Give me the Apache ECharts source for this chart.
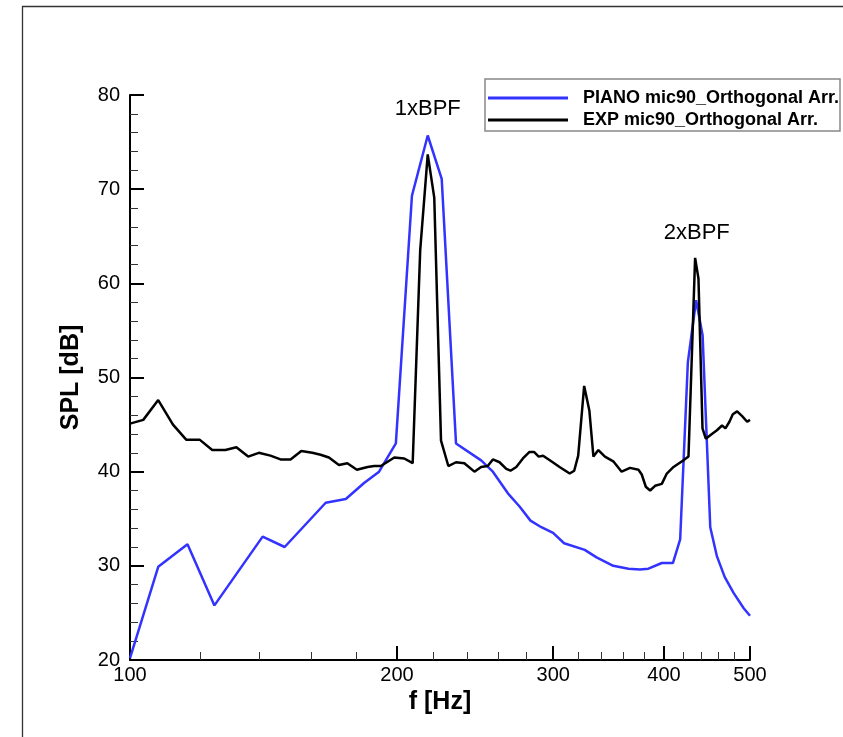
<!DOCTYPE html>
<html>
<head>
<meta charset="utf-8">
<title>SPL spectrum, mic90</title>
<script src="https://cdn.jsdelivr.net/npm/echarts@6/dist/echarts.min.js"></script>
<style>
  html, body { margin: 0; padding: 0; background: #fff; }
  #chart { width: 843px; height: 737px; }
</style>
</head>
<body>
<div id="chart"></div>
<script>
// Frequency [Hz] and SPL [dB] of the PIANO prediction
const pianoFreq = [100, 107.6, 116.1, 124.5, 141.1, 149.4, 166.2, 175.1, 183.6, 190.9, 199.4, 207.9, 216.6, 224.6, 233.1, 248.8, 256.5, 266.7, 274.9, 282.8, 290.9, 299.9, 308.6, 325.6, 335.7, 350.6, 364.7, 375.8, 384.1, 397.7, 409.3, 417.1, 425.5, 434.7, 442.1, 451.0, 458.9, 468.3, 479.3, 491.9, 500];
const pianoSpl = [20.2, 29.9, 32.3, 25.8, 33.1, 32.0, 36.7, 37.1, 38.8, 40.0, 43.0, 69.3, 75.7, 71.1, 43.0, 41.2, 40.0, 37.7, 36.3, 34.8, 34.1, 33.5, 32.4, 31.7, 30.9, 30.0, 29.7, 29.6, 29.7, 30.3, 30.3, 32.8, 51.6, 58.2, 54.5, 34.1, 31.0, 28.8, 27.1, 25.5, 24.7];

// Frequency [Hz] and SPL [dB] of the measurement
const expFreq = [100, 103.5, 107.6, 111.8, 115.7, 119.8, 123.8, 128.1, 131.8, 135.9, 139.7, 144, 147.8, 151.7, 156, 160.5, 164, 167.6, 172, 175.8, 180.2, 185.3, 188.5, 191.8, 198.6, 203.8, 208.3, 212.4, 216.6, 220.3, 224.2, 228.5, 233.1, 238.2, 244.5, 248.8, 253.1, 256.5, 261, 265.6, 268.5, 272.6, 277.3, 282.1, 285.4, 288.9, 292.2, 298.5, 305, 313.1, 316.8, 320.1, 325.1, 329.5, 333, 337.3, 343.1, 350.6, 358.3, 366.2, 374.3, 377.5, 381.5, 385.8, 390.8, 397.7, 402.9, 410, 415.9, 420.7, 426.2, 433.6, 437.4, 442, 445.8, 452.9, 458.9, 465, 469.1, 474, 478.2, 483.6, 489.9, 496.3, 500];
const expSpl = [45.1, 45.5, 47.6, 45.0, 43.4, 43.4, 42.3, 42.3, 42.6, 41.6, 42.0, 41.7, 41.3, 41.3, 42.2, 42.0, 41.8, 41.5, 40.7, 40.9, 40.2, 40.5, 40.6, 40.6, 41.5, 41.4, 40.9, 63.5, 73.7, 69.1, 43.3, 40.6, 41.0, 40.9, 40.0, 40.5, 40.6, 41.3, 41.0, 40.3, 40.1, 40.5, 41.4, 42.1, 42.1, 41.6, 41.7, 41.1, 40.5, 39.8, 40.1, 41.7, 49.1, 46.5, 41.6, 42.3, 41.6, 41.1, 40.0, 40.4, 40.2, 39.7, 38.4, 38.0, 38.5, 38.7, 39.8, 40.5, 40.9, 41.2, 41.6, 62.7, 60.5, 44.6, 43.5, 44.0, 44.4, 44.9, 44.6, 45.3, 46.1, 46.4, 45.9, 45.3, 45.5];

// Axis ticks
const freqMajorTicks = [100, 200, 300, 400, 500];
const freqMinorTicks = [120, 140, 160, 180, 220, 240, 260, 280, 320, 340, 360, 380, 420, 440, 460, 480];

// Blade-passing-frequency annotations: name, frequency, SPL
const bpfNames = ['1xBPF', '2xBPF'];
const bpfFreq = [216.6, 435.5];
const bpfSpl = [78.5, 65.3];

const seriesNames = ['PIANO mic90_Orthogonal Arr.', 'EXP mic90_Orthogonal Arr.'];

const FONT = 'Liberation Sans, Arial, Helvetica, sans-serif';
const zip = (a, b) => a.map((v, i) => [v, b[i]]);

const chart = echarts.init(document.getElementById('chart'), null, { renderer: 'canvas' });

chart.setOption({
  backgroundColor: '#fff',
  animation: false,
  textStyle: { fontFamily: FONT },
  grid: { left: 130, right: 93, top: 95, bottom: 77, containLabel: false },
  xAxis: [
    {
      type: 'log', logBase: 10, min: 100, max: 500,
      name: 'f [Hz]', nameLocation: 'middle', nameGap: 30,
      nameTextStyle: { fontFamily: FONT, fontSize: 25, fontWeight: 'bold', color: '#000' },
      axisLine: { show: true, lineStyle: { color: '#000', width: 2 } },
      axisTick: { show: true, inside: true, length: 14, customValues: freqMajorTicks, lineStyle: { color: '#000', width: 2 } },
      axisLabel: { show: true, margin: 5, customValues: freqMajorTicks, fontFamily: FONT, fontSize: 20, color: '#000', formatter: v => String(Math.round(v)) },
      splitLine: { show: false },
      minorTick: { show: false }
    },
    {
      type: 'log', logBase: 10, min: 100, max: 500, position: 'bottom',
      axisLine: { show: false },
      axisTick: { show: true, inside: true, length: 8, customValues: freqMinorTicks, lineStyle: { color: '#333', width: 1 } },
      axisLabel: { show: false },
      splitLine: { show: false }
    }
  ],
  yAxis: {
    type: 'value', min: 20, max: 80, interval: 10,
    name: 'SPL [dB]', nameLocation: 'middle', nameGap: 46,
    nameTextStyle: { fontFamily: FONT, fontSize: 25, fontWeight: 'bold', color: '#000' },
    axisLine: { show: true, lineStyle: { color: '#000', width: 2 } },
    axisTick: { show: true, inside: true, length: 14, lineStyle: { color: '#000', width: 2 } },
    minorTick: { show: true, splitNumber: 5, length: 8, lineStyle: { color: '#333', width: 1 } },
    axisLabel: { margin: 10, fontFamily: FONT, fontSize: 20, color: '#000' },
    splitLine: { show: false }
  },
  legend: {
    orient: 'vertical', left: 488, top: 88, padding: 0, itemGap: 2,
    icon: 'rect', itemWidth: 80, itemHeight: 3,
    data: seriesNames,
    textStyle: { fontFamily: FONT, fontSize: 18, fontWeight: 'bold', color: '#000', lineHeight: 20, padding: [0, 0, 0, 10] }
  },
  graphic: [
    { type: 'rect', silent: true, z: 0,
      shape: { x: 22.5, y: 6.5, width: 1000, height: 1000 },
      style: { fill: 'none', stroke: '#333', lineWidth: 1.3 } },
    { type: 'rect', silent: true, z: 1,
      shape: { x: 485, y: 79, width: 355, height: 52 },
      style: { fill: '#fff', stroke: '#888', lineWidth: 1.5 } }
  ],
  series: [
    {
      name: seriesNames[0], type: 'line', xAxisIndex: 0,
      data: zip(pianoFreq, pianoSpl),
      showSymbol: false, symbol: 'none',
      lineStyle: { color: '#3333ff', width: 2.5 },
      itemStyle: { color: '#3333ff' },
      z: 3
    },
    {
      name: seriesNames[1], type: 'line', xAxisIndex: 0,
      data: zip(expFreq, expSpl),
      showSymbol: false, symbol: 'none',
      lineStyle: { color: '#000', width: 2.5 },
      itemStyle: { color: '#000' },
      z: 4,
      markPoint: {
        symbol: 'circle', symbolSize: 0,
        label: { show: true, position: 'inside', formatter: '{b}', fontFamily: FONT, fontSize: 22, color: '#000' },
        data: bpfNames.map((n, i) => ({ name: n, coord: [bpfFreq[i], bpfSpl[i]] }))
      }
    }
  ]
});
</script>
</body>
</html>
